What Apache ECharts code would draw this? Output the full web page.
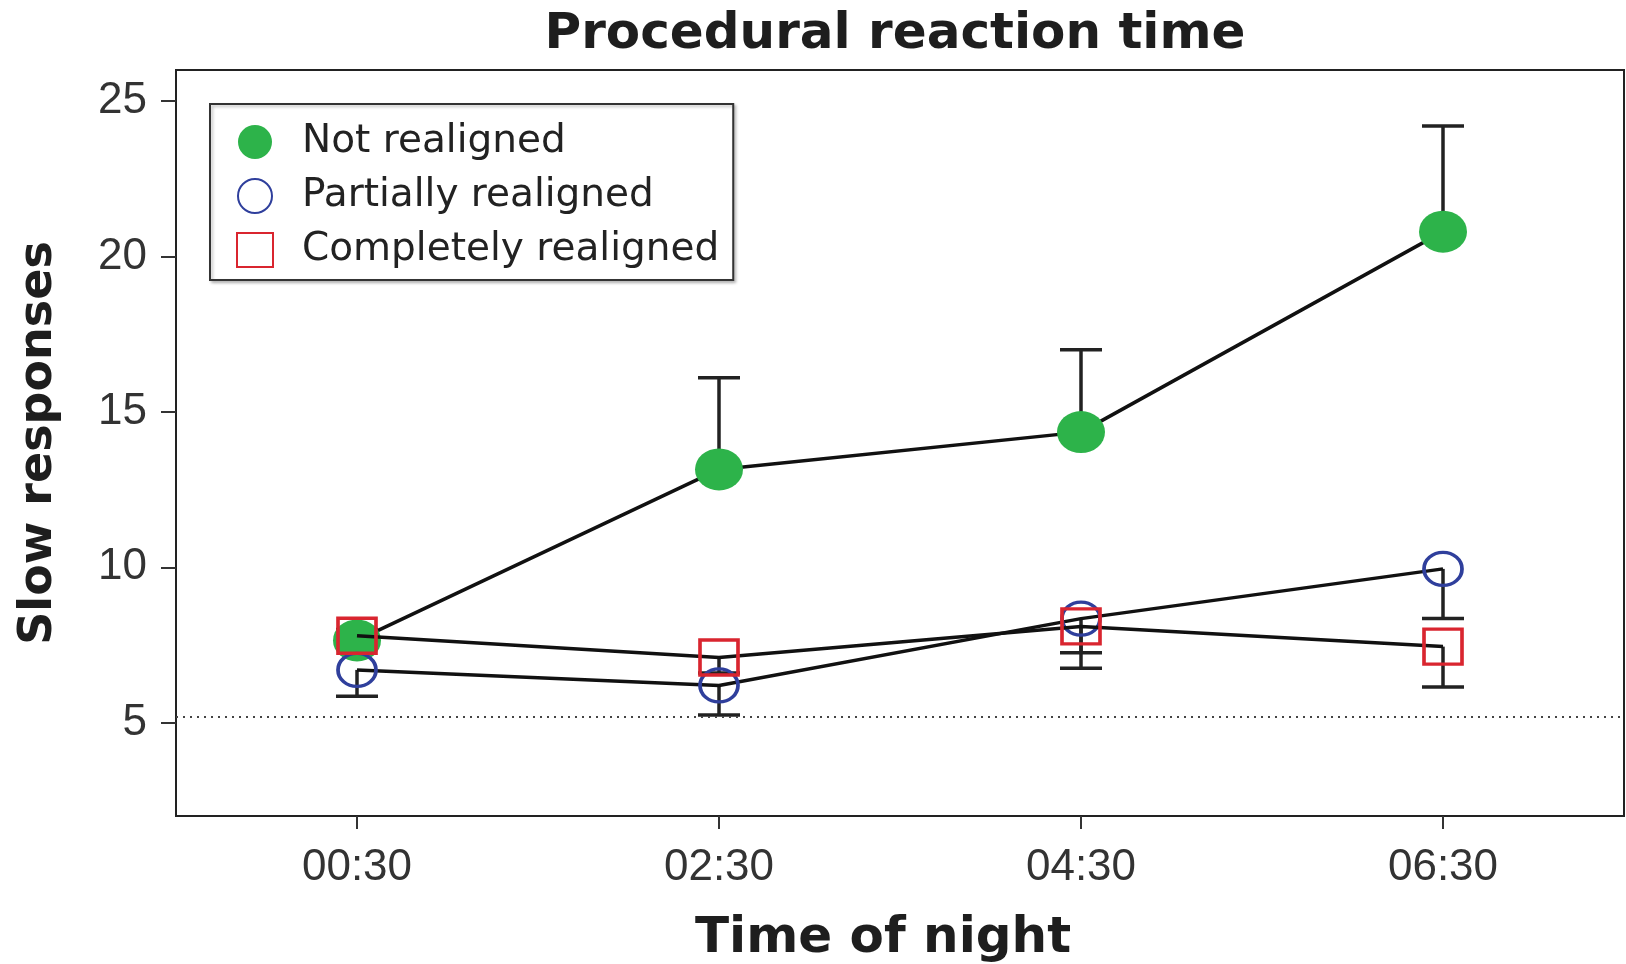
<!DOCTYPE html>
<html>
<head>
<meta charset="utf-8">
<script src="https://cdn.jsdelivr.net/npm/echarts@6/dist/echarts.min.js"></script>
<style>
html,body{margin:0;padding:0;background:#fff;}
#chart{width:1626px;height:964px;}
</style>
</head>
<body>
<div id="chart"></div>
<script>
const categories = ['00:30', '02:30', '04:30', '06:30'];
const notRealigned = [7.65, 13.15, 14.35, 20.8];
const notRealignedUpper = [8.0, 16.1, 17.0, 24.2];
const partiallyRealigned = [6.7, 6.2, 8.35, 9.95];
const partiallyLower = [5.85, 5.25, 7.25, 8.35];
const completelyRealigned = [7.8, 7.1, 8.1, 7.45];
const completelyLower = [7.4, 6.6, 6.75, 6.15];
const referenceLevel = 5.2;
const yTickValues = [5, 10, 15, 20, 25];

const GREEN = '#2db34a';
const BLUE = '#2f3f9c';
const RED = '#d9252f';

function errorData(means, ends) {
  return means.map((m, i) => [i, m, ends[i]]);
}

function renderErrorBar(params, api) {
  const x = api.value(0);
  const a = api.coord([x, api.value(1)]);
  const b = api.coord([x, api.value(2)]);
  const half = 21;
  const style = { stroke: '#222', lineWidth: 3.5 };
  return {
    type: 'group',
    children: [
      { type: 'line', shape: { x1: a[0], y1: a[1], x2: b[0], y2: b[1] }, style: style },
      { type: 'line', shape: { x1: b[0] - half, y1: b[1], x2: b[0] + half, y2: b[1] }, style: style }
    ]
  };
}

const chart = echarts.init(document.getElementById('chart'));
chart.setOption({
  backgroundColor: '#fff',
  animation: false,
  title: {
    text: 'Procedural reaction time',
    left: 890,
    top: 5,
    textAlign: 'center',
    textStyle: { fontFamily: 'DejaVu Sans', fontWeight: 'bold', fontSize: 50, color: '#1e1e1e' }
  },
  legend: {
    orient: 'vertical',
    left: 210,
    top: 104,
    padding: [18, 14, 10, 26],
    itemGap: 14,
    itemWidth: 36,
    itemHeight: 34,
    borderColor: '#333',
    borderWidth: 2,
    backgroundColor: '#fff',
    shadowColor: 'rgba(0,0,0,0.25)',
    shadowBlur: 3,
    shadowOffsetX: 2,
    shadowOffsetY: 2,
    textStyle: { fontFamily: 'DejaVu Sans', fontSize: 39, lineHeight: 40, color: '#222', padding: [0, 0, 0, 24] },
    data: [
      { name: 'Not realigned', icon: 'circle' },
      { name: 'Partially realigned', icon: 'circle' },
      { name: 'Completely realigned', icon: 'rect' }
    ]
  },
  grid: {
    left: 176, right: 2, top: 70, bottom: 148,
    outerBoundsMode: 'none',
    containLabel: false,
    show: true, borderColor: '#222', borderWidth: 2, backgroundColor: 'transparent'
  },
  xAxis: {
    type: 'category',
    data: categories,
    boundaryGap: true,
    name: 'Time of night',
    nameLocation: 'middle',
    nameGap: 98,
    nameTextStyle: { fontFamily: 'DejaVu Sans', fontWeight: 'bold', fontSize: 50, color: '#1e1e1e', padding: [0, 34, 0, 0] },
    axisLine: { show: true, lineStyle: { color: '#222', width: 2 } },
    axisTick: { show: true, alignWithLabel: true, length: 13, lineStyle: { color: '#333', width: 2 } },
    axisLabel: { fontFamily: 'Liberation Sans', fontSize: 44, color: '#333', margin: 30 },
    splitLine: { show: false }
  },
  yAxis: {
    type: 'value',
    min: 2,
    max: 26,
    name: 'Slow responses',
    nameLocation: 'middle',
    nameGap: 114,
    nameRotate: 90,
    nameTextStyle: { fontFamily: 'DejaVu Sans', fontWeight: 'bold', fontSize: 46, color: '#1e1e1e' },
    axisLine: { show: true, lineStyle: { color: '#222', width: 2 } },
    axisTick: { show: true, length: 15, customValues: yTickValues, lineStyle: { color: '#333', width: 2 } },
    axisLabel: { fontFamily: 'Liberation Sans', fontSize: 44, color: '#333', margin: 29, customValues: yTickValues },
    splitLine: { show: false }
  },
  series: [
    {
      name: 'errNot', type: 'custom', z: 1, silent: true,
      renderItem: renderErrorBar, data: errorData(notRealigned, notRealignedUpper)
    },
    {
      name: 'errPartial', type: 'custom', z: 1, silent: true,
      renderItem: renderErrorBar, data: errorData(partiallyRealigned, partiallyLower)
    },
    {
      name: 'errComplete', type: 'custom', z: 1, silent: true,
      renderItem: renderErrorBar, data: errorData(completelyRealigned, completelyLower)
    },
    {
      name: 'Not realigned', type: 'line', z: 3, data: notRealigned,
      symbol: 'circle', symbolSize: [48, 42],
      lineStyle: { color: '#111', width: 3.5 },
      itemStyle: { color: GREEN, borderWidth: 0 },
      markLine: {
        silent: true, symbol: 'none', label: { show: false },
        lineStyle: { color: '#444', type: [2, 5], width: 1.8 },
        data: [{ yAxis: referenceLevel }]
      }
    },
    {
      name: 'Partially realigned', type: 'line', z: 4, data: partiallyRealigned,
      symbol: 'circle', symbolSize: [38, 33],
      lineStyle: { color: '#111', width: 3.5 },
      itemStyle: { color: 'rgba(255,255,255,0)', borderColor: BLUE, borderWidth: 3.5 }
    },
    {
      name: 'Completely realigned', type: 'line', z: 5, data: completelyRealigned,
      symbol: 'rect', symbolSize: [38, 35],
      lineStyle: { color: '#111', width: 3.5 },
      itemStyle: { color: 'rgba(255,255,255,0)', borderColor: RED, borderWidth: 3.5 }
    }
  ]
});
</script>
</body>
</html>
